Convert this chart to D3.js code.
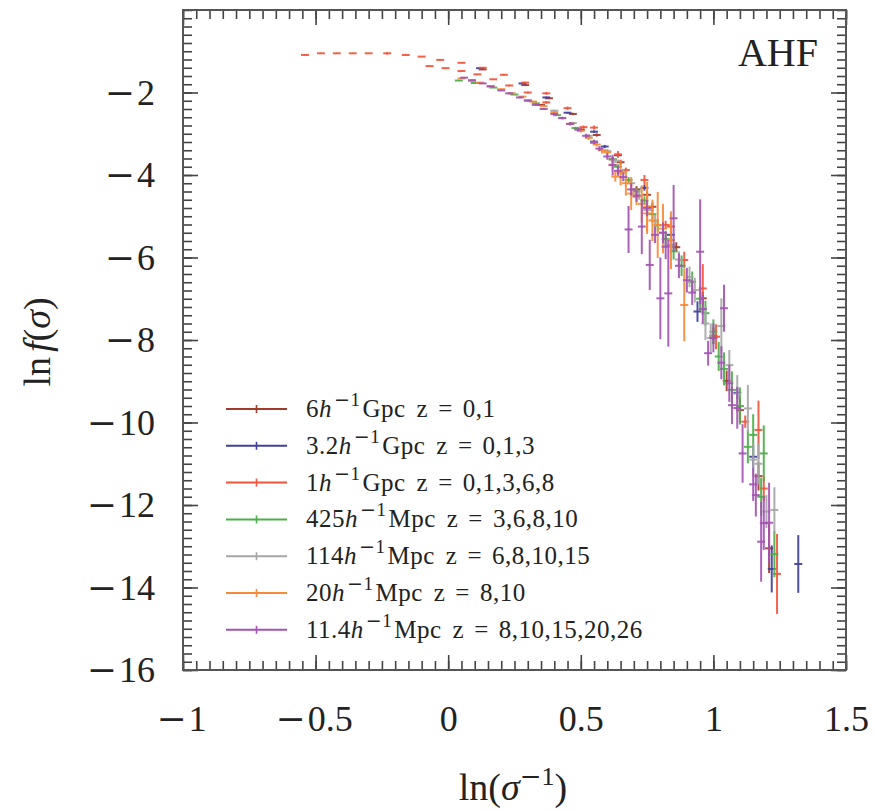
<!DOCTYPE html>
<html>
<head>
<meta charset="utf-8">
<script src="https://cdnjs.cloudflare.com/ajax/libs/d3/7.8.5/d3.min.js"></script>
<style>
  body { margin: 0; background: #fff; }
  svg { display: block; }
  text { font-family: "Liberation Serif", "Times New Roman", serif; fill: #222; }
</style>
</head>
<body>
<div id="chart"></div>
<script>
// each point: [ln(1/sigma), ln f(sigma), half error in ln f]
const box6Gpc = [
  [0.13, -1.44, 0.01], [0.29, -1.82, 0.02], [0.38, -2.14, 0.02], [0.47, -2.52, 0.03],
  [0.56, -3.03, 0.04], [0.65, -3.69, 0.06], [0.75, -4.48, 0.08], [0.77, -4.77, 0.1],
  [0.35, -2.30, 0.02], [0.50, -2.90, 0.03], [0.62, -3.62, 0.05], [0.71, -4.35, 0.08],
  [0.86, -5.75, 0.12], [0.96, -6.99, 0.15], [1.00, -7.90, 0.2], [1.05, -8.99, 0.25],
  [1.10, -9.70, 0.3], [1.17, -11.30, 0.35], [1.21, -13.05, 0.6]
];
const box3Gpc = [
  [0.12, -1.41, 0.01], [0.28, -1.78, 0.01], [0.37, -2.12, 0.02], [0.45, -2.49, 0.02],
  [0.55, -2.95, 0.03], [0.59, -3.31, 0.04], [0.64, -3.52, 0.05], [0.74, -4.31, 0.07],
  [0.84, -5.45, 0.1], [0.94, -7.31, 0.25], [1.09, -9.28, 0.15], [1.15, -10.83, 0.28],
  [1.22, -13.55, 0.57], [1.32, -13.43, 0.70]
];
const box1Gpc = [
  [-0.54, -1.09, 0.01], [-0.48, -1.05, 0.01], [-0.42, -1.05, 0.01], [-0.36, -1.05, 0.01],
  [-0.30, -1.05, 0.01], [-0.23, -1.05, 0.03], [-0.16, -1.09, 0.01], [-0.10, -1.13, 0.01],
  [-0.03, -1.21, 0.01], [0.05, -1.28, 0.01], [0.13, -1.40, 0.01], [0.21, -1.57, 0.02],
  [0.29, -1.76, 0.02], [0.37, -2.02, 0.03], [0.45, -2.38, 0.04], [0.55, -2.85, 0.05],
  [0.64, -3.50, 0.08], [0.74, -4.12, 0.12],
  [-0.07, -1.36, 0.01], [-0.01, -1.41, 0.01], [0.05, -1.48, 0.01], [0.11, -1.56, 0.01],
  [0.17, -1.68, 0.01], [0.23, -1.83, 0.02], [0.30, -2.00, 0.02], [0.37, -2.24, 0.03],
  [0.51, -2.84, 0.04], [0.67, -3.88, 0.06], [0.82, -5.21, 0.1],
  [0.84, -5.25, 0.15], [0.89, -6.06, 0.2], [0.96, -6.75, 0.59], [1.01, -7.92, 0.3],
  [1.12, -9.98, 0.15], [1.17, -10.18, 0.71], [1.19, -11.60, 0.3], [1.24, -13.67, 0.97]
];
const box425Mpc = [
  [0.04, -1.71, 0.01], [0.10, -1.77, 0.01], [0.17, -1.88, 0.01], [0.25, -2.05, 0.01],
  [0.33, -2.26, 0.02], [0.41, -2.55, 0.02], [0.48, -2.86, 0.03], [0.55, -3.22, 0.04],
  [0.62, -3.62, 0.05], [0.64, -3.80, 0.06], [0.68, -4.12, 0.07], [0.71, -4.40, 0.08],
  [0.74, -4.62, 0.1], [0.77, -4.95, 0.12], [0.79, -5.22, 0.15], [0.82, -5.55, 0.2],
  [0.85, -5.85, 0.2], [0.88, -6.20, 0.25], [0.92, -6.59, 0.25], [0.95, -7.00, 0.3],
  [0.97, -7.35, 0.3], [1.00, -7.80, 0.3], [1.02, -8.40, 0.35], [1.04, -8.70, 0.4],
  [1.07, -9.21, 0.45], [1.10, -9.60, 0.45], [1.13, -10.59, 0.4], [1.15, -10.30, 0.5],
  [1.19, -10.75, 0.68], [1.18, -11.80, 0.46], [1.23, -13.19, 0.56]
];
const box114Mpc = [
  [0.30, -2.18, 0.02], [0.40, -2.44, 0.02], [0.47, -2.74, 0.03], [0.53, -3.05, 0.04],
  [0.55, -3.18, 0.04], [0.60, -3.42, 0.05], [0.63, -3.65, 0.06], [0.66, -3.92, 0.07],
  [0.69, -4.20, 0.08], [0.72, -4.50, 0.1], [0.75, -4.85, 0.12], [0.78, -5.12, 0.15],
  [0.81, -5.40, 0.18], [0.84, -5.70, 0.2], [0.87, -6.05, 0.2], [0.91, -6.47, 0.25],
  [0.93, -6.79, 0.3], [0.97, -7.60, 0.4], [0.99, -7.95, 0.35], [1.03, -7.66, 0.67],
  [1.06, -8.61, 0.37], [1.09, -9.30, 0.45], [1.13, -9.66, 0.57], [1.15, -10.90, 0.4],
  [1.17, -11.00, 0.5], [1.20, -12.16, 0.4], [1.23, -12.12, 0.55]
];
const box20Mpc = [
  [0.05, -1.66, 0.01], [0.09, -1.72, 0.01], [0.12, -1.76, 0.01], [0.16, -1.85, 0.01],
  [0.20, -1.92, 0.01], [0.24, -2.02, 0.01], [0.28, -2.10, 0.02], [0.32, -2.22, 0.02],
  [0.36, -2.33, 0.02], [0.40, -2.48, 0.03], [0.43, -2.62, 0.03], [0.46, -2.76, 0.03],
  [0.50, -2.93, 0.04], [0.53, -3.10, 0.05], [0.56, -3.26, 0.05], [0.58, -3.40, 0.08],
  [0.60, -3.45, 0.06], [0.62, -3.75, 0.12], [0.63, -4.04, 0.12], [0.65, -3.95, 0.3],
  [0.67, -4.20, 0.3], [0.69, -4.45, 0.4], [0.71, -4.53, 0.2], [0.73, -4.70, 0.45],
  [0.75, -4.93, 0.5], [0.75, -4.77, 0.6], [0.77, -5.10, 0.5], [0.79, -5.21, 0.8],
  [0.81, -5.30, 0.6], [0.84, -5.58, 0.7], [0.89, -7.15, 0.88]
];
const box11Mpc = [
  [0.06, -1.64, 0.01], [0.09, -1.70, 0.01], [0.13, -1.78, 0.01], [0.16, -1.85, 0.01],
  [0.20, -1.95, 0.01], [0.23, -2.02, 0.02], [0.27, -2.12, 0.02], [0.30, -2.20, 0.02],
  [0.33, -2.30, 0.02], [0.36, -2.40, 0.02], [0.40, -2.52, 0.03], [0.43, -2.62, 0.03],
  [0.46, -2.76, 0.04], [0.49, -2.90, 0.04], [0.52, -3.05, 0.05], [0.55, -3.20, 0.05],
  [0.57, -3.36, 0.06], [0.60, -3.55, 0.08], [0.62, -3.76, 0.25], [0.64, -3.90, 0.12],
  [0.66, -4.05, 0.1], [0.69, -4.35, 0.15], [0.71, -4.50, 0.15], [0.75, -4.80, 0.2],
  [0.78, -5.45, 0.2], [0.81, -5.40, 0.25], [0.87, -6.20, 0.3], [0.90, -6.55, 0.3],
  [0.92, -6.85, 0.3], [0.96, -7.25, 0.35], [1.00, -7.95, 0.35], [1.03, -8.55, 0.4],
  [1.06, -9.05, 0.45], [1.09, -9.65, 0.5],
  [0.68, -5.32, 0.57], [0.73, -5.25, 0.67], [0.76, -6.18, 0.61], [0.80, -6.99, 0.99],
  [0.82, -5.74, 0.3], [0.83, -6.87, 1.29], [0.85, -5.05, 0.81], [0.95, -5.86, 1.27],
  [0.98, -8.32, 0.3], [1.04, -7.23, 0.57], [1.07, -9.58, 0.46], [1.11, -10.75, 0.71],
  [1.15, -11.50, 0.4], [1.16, -11.76, 0.52], [1.18, -12.89, 0.97], [1.19, -12.44, 0.65],
  [1.21, -12.43, 0.97]
];

const boxSizes = ["6", "3.2", "1", "425", "114", "20", "11.4"];
const boxUnits = ["Gpc", "Gpc", "Gpc", "Mpc", "Mpc", "Mpc", "Mpc"];
const redshifts = ["0,1", "0,1,3", "0,1,3,6,8", "3,6,8,10", "6,8,10,15", "8,10", "8,10,15,20,26"];
const binHalfWidth = [0.015, 0.015, 0.015, 0.015, 0.015, 0.015, 0.015];
const seriesData = [box6Gpc, box3Gpc, box1Gpc, box425Mpc, box114Mpc, box20Mpc, box11Mpc];
const colors = ["#a23b2c", "#40409e", "#f2553c", "#4daf4a", "#a6a6a6", "#f58b3a", "#a452b4"];

const xTicks = [-1, -0.5, 0, 0.5, 1, 1.5];
const yTicks = [-16, -14, -12, -10, -8, -6, -4, -2];

const W = 875, H = 811;
const plot = { left: 183, top: 10, right: 846, bottom: 670 };
const minusFont = '"DejaVu Serif", serif';

const svg = d3.select("#chart").append("svg")
  .attr("width", W)
  .attr("height", H);

const x = d3.scaleLinear().domain([-1, 1.5]).range([plot.left, plot.right]);
const y = d3.scaleLinear().domain([-16, 0]).range([plot.bottom, plot.top]);

const xMinor = d3.range(-1, 1.5001, 0.05);
const yMinor = d3.range(-16, 0.001, 0.2);

function styleAxis(g) {
  g.select(".domain").remove();
  g.selectAll(".tick line").attr("stroke", "#444").attr("stroke-width", 1.6);
  g.selectAll(".tick text")
    .style("font-family", '"Liberation Serif", serif')
    .style("font-size", "36px").attr("fill", "#222")
    .each(function(d) {
      const t = d3.select(this);
      if (!t.text()) return;
      t.text("");
      if (d < 0) t.append("tspan").style("font-family", minusFont).attr("dx", -2).text("\u2212");
      t.append("tspan").attr("dx", d < 0 ? 2 : 0).text(String(Math.abs(d)));
    });
}

// minor ticks on all four sides, pointing in
const minorTick = 9, majorTick = 15;
svg.append("g").attr("transform", `translate(0,${plot.bottom})`)
  .call(d3.axisBottom(x).tickValues(xMinor).tickSize(-minorTick).tickFormat("")).call(styleAxis);
svg.append("g").attr("transform", `translate(0,${plot.top})`)
  .call(d3.axisTop(x).tickValues(xMinor).tickSize(-minorTick).tickFormat("")).call(styleAxis);
svg.append("g").attr("transform", `translate(${plot.left},0)`)
  .call(d3.axisLeft(y).tickValues(yMinor).tickSize(-minorTick).tickFormat("")).call(styleAxis);
svg.append("g").attr("transform", `translate(${plot.right},0)`)
  .call(d3.axisRight(y).tickValues(yMinor).tickSize(-minorTick).tickFormat("")).call(styleAxis);

// major ticks with labels
svg.append("g").attr("transform", `translate(0,${plot.bottom})`)
  .call(d3.axisBottom(x).tickValues(xTicks).tickSize(-majorTick).tickPadding(35).tickFormat(d3.format("")))
  .call(styleAxis);
svg.append("g").attr("transform", `translate(0,${plot.top})`)
  .call(d3.axisTop(x).tickValues(xTicks).tickSize(-majorTick).tickFormat("")).call(styleAxis);
svg.append("g").attr("transform", `translate(${plot.left},0)`)
  .call(d3.axisLeft(y).tickValues(yTicks).tickSize(-majorTick).tickPadding(26).tickFormat(d3.format("")))
  .call(styleAxis);
svg.append("g").attr("transform", `translate(${plot.right},0)`)
  .call(d3.axisRight(y).tickValues(yTicks).tickSize(-majorTick).tickFormat("")).call(styleAxis);

// frame
svg.append("rect")
  .attr("x", plot.left).attr("y", plot.top)
  .attr("width", plot.right - plot.left).attr("height", plot.bottom - plot.top)
  .attr("fill", "none").attr("stroke", "#555").attr("stroke-width", 2);

// error bars, one cross per bin
seriesData.forEach((pts, i) => {
  const g = svg.append("g")
    .attr("stroke", colors[i])
    .attr("stroke-width", 2)
    .attr("stroke-opacity", 0.92);
  const dx = binHalfWidth[i];
  g.selectAll("line.h").data(pts).join("line").attr("class", "h")
    .attr("x1", d => x(d[0] - dx)).attr("x2", d => x(d[0] + dx))
    .attr("y1", d => y(d[1])).attr("y2", d => y(d[1]));
  g.selectAll("line.v").data(pts).join("line").attr("class", "v")
    .attr("x1", d => x(d[0])).attr("x2", d => x(d[0]))
    .attr("y1", d => y(d[1] - d[2])).attr("y2", d => y(d[1] + d[2]));
});

// legend
const legend = svg.append("g");
const rowY0 = 409, rowStep = 36.8;
boxSizes.forEach((s, i) => {
  const ry = rowY0 + i * rowStep;
  const row = legend.append("g").attr("transform", `translate(0,${ry})`);
  row.append("line").attr("x1", 226).attr("x2", 287).attr("y1", 0).attr("y2", 0)
    .attr("stroke", colors[i]).attr("stroke-width", 2);
  row.append("line").attr("x1", 256.5).attr("x2", 256.5).attr("y1", -4).attr("y2", 4)
    .attr("stroke", colors[i]).attr("stroke-width", 1.6);
  const t = row.append("text").attr("x", 306).attr("y", 8)
    .style("font-size", "25px").style("letter-spacing", "0.5px");
  t.append("tspan").text(s);
  t.append("tspan").style("font-style", "italic").text("h");
  t.append("tspan").attr("dx", 2).attr("dy", -11).style("font-size", "19px")
    .style("font-family", minusFont).text("\u2212");
  t.append("tspan").style("font-size", "19px").text("1");
  t.append("tspan").attr("dx", 2).attr("dy", 11).text(boxUnits[i]);
  t.append("tspan").attr("dx", 11).text("z");
  t.append("tspan").attr("dx", 10).text("=");
  t.append("tspan").attr("dx", 10).text(redshifts[i]);
});

// corner label
svg.append("text")
  .attr("x", 818).attr("y", 66)
  .attr("text-anchor", "end")
  .style("font-size", "40px")
  .text("AHF");

// x axis title
const xt = svg.append("text")
  .attr("x", 513).attr("y", 800)
  .attr("text-anchor", "middle")
  .style("font-size", "38px");
xt.append("tspan").text("ln(");
xt.append("tspan").style("font-style", "italic").text("\u03c3");
xt.append("tspan").attr("dy", -15).style("font-size", "26px")
  .style("font-family", minusFont).text("\u2212");
xt.append("tspan").style("font-size", "26px").text("1");
xt.append("tspan").attr("dy", 15).text(")");

// y axis title
const yt = svg.append("text")
  .attr("transform", "translate(50,342) rotate(-90)")
  .attr("text-anchor", "middle")
  .style("font-size", "38px");
yt.append("tspan").text("ln");
yt.append("tspan").attr("dx", 5).style("font-style", "italic").text("f");
yt.append("tspan").text("(");
yt.append("tspan").style("font-style", "italic").text("\u03c3");
yt.append("tspan").text(")");
</script>
</body>
</html>
